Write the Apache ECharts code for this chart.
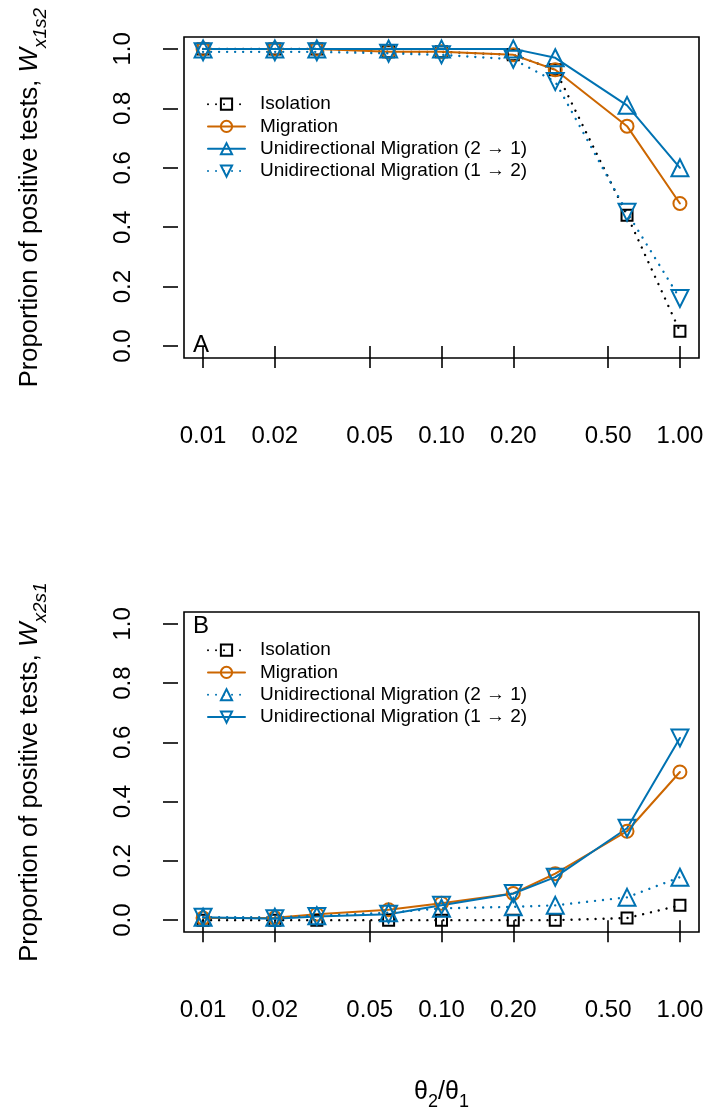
<!DOCTYPE html>
<html><head><meta charset="utf-8">
<script src="https://cdn.jsdelivr.net/npm/echarts@6/dist/echarts.min.js"></script>
<style>html,body{margin:0;padding:0;background:#fff}#c{width:708px;height:1111px}</style>
</head><body><div id="c"></div>
<script>
// ---- data ----
const theta = [0.01, 0.02, 0.03, 0.06, 0.1, 0.2, 0.3, 0.6, 1.0];
const xTicks = [0.01, 0.02, 0.05, 0.1, 0.2, 0.5, 1.0];
const yTicks = [0, 0.2, 0.4, 0.6, 0.8, 1.0];
const seriesNames = ['Isolation', 'Migration', 'Unidirectional Migration (2 \u2192 1)', 'Unidirectional Migration (1 \u2192 2)'];
// Panel A: W_x1s2
const A_isolation = [1.0, 1.0, 1.0, 0.99, 0.99, 0.98, 0.93, 0.44, 0.05];
const A_migration = [1.0, 1.0, 1.0, 0.99, 0.99, 0.98, 0.93, 0.74, 0.48];
const A_uni21     = [1.0, 1.0, 1.0, 1.0, 1.0, 1.0, 0.97, 0.81, 0.60];
const A_uni12     = [0.99, 0.99, 0.99, 0.985, 0.98, 0.965, 0.89, 0.45, 0.16];
// Panel B: W_x2s1
const B_isolation = [0.0, 0.0, 0.0, 0.0, 0.0, 0.0, 0.0, 0.007, 0.05];
const B_migration = [0.007, 0.008, 0.02, 0.035, 0.057, 0.09, 0.157, 0.30, 0.50];
const B_uni21     = [0.01, 0.01, 0.015, 0.025, 0.04, 0.045, 0.05, 0.077, 0.145];
const B_uni12     = [0.01, 0.005, 0.012, 0.02, 0.05, 0.09, 0.145, 0.31, 0.615];

const BLACK = '#000000', ORANGE = '#cc6600', BLUE = '#0072b2';
const FONT = 'Liberation Sans, Arial, Helvetica, sans-serif';
const DOT = [0.01, 8];

function pairs(ys) { return theta.map((t, i) => [t, ys[i]]); }

function mk(name, ys, idx, color, symbol, rotate, dotted, size) {
  return {
    type: 'line', name: name, xAxisIndex: idx, yAxisIndex: idx,
    data: pairs(ys), symbol: symbol, symbolSize: size, symbolRotate: rotate,
    showSymbol: true, animation: false,
    lineStyle: { color: color, width: dotted ? 2.4 : 2, type: dotted ? DOT : 'solid', cap: 'round' },
    itemStyle: { color: 'rgba(0,0,0,0)', borderColor: color, borderWidth: 2 },
    emphasis: { disabled: true }
  };
}

const sfx = ['', '\u200b'];
const series = [];
[[A_isolation, A_migration, A_uni21, A_uni12], [B_isolation, B_migration, B_uni21, B_uni12]].forEach((set, p) => {
  const uni21Dotted = p === 1, uni12Dotted = p === 0;
  series.push(mk(seriesNames[0] + sfx[p], set[0], p, BLACK, 'rect', 0, true, 11));
  series.push(mk(seriesNames[1] + sfx[p], set[1], p, ORANGE, 'circle', 0, false, 13));
  series.push(mk(seriesNames[2] + sfx[p], set[2], p, BLUE, 'triangle', 0, uni21Dotted, 17));
  series.push(mk(seriesNames[3] + sfx[p], set[3], p, BLUE, 'triangle', 180, uni12Dotted, 17));
});

const grids = [
  { left: 184, top: 37, width: 515, height: 321 },
  { left: 184, top: 612, width: 515, height: 320 }
].map(g => Object.assign(g, { show: true, borderColor: '#000', borderWidth: 1.6, backgroundColor: 'transparent',
  containLabel: false, outerBoundsMode: 'none' }));

function xAxis(i) {
  const ax = {
    type: 'log', logBase: 10, gridIndex: i, min: 0.0083176, max: 1.2023,
    offset: 2,
    axisLine: { show: false },
    axisTick: { show: true, length: 22, customValues: xTicks, lineStyle: { color: '#000', width: 1.6 } },
    axisLabel: { customValues: xTicks, margin: 64, fontSize: 24, fontFamily: FONT, color: '#000',
      formatter: v => Number(v).toFixed(2) },
    splitLine: { show: false }, minorTick: { show: false }
  };
  if (i === 1) {
    ax.name = '{t|\u03b8}{s|2}{t|/\u03b8}{s|1}';
    ax.nameLocation = 'middle';
    ax.nameGap = 141;
    ax.nameTextStyle = { rich: {
      t: { fontSize: 25, fontFamily: FONT, color: '#000', lineHeight: 30, verticalAlign: 'bottom' },
      s: { fontSize: 18, fontFamily: FONT, color: '#000', lineHeight: 30, verticalAlign: 'bottom', padding: [0, 0, -6, 0] }
    } };
  }
  return ax;
}

function yAxis(i, sub) {
  return {
    type: 'value', gridIndex: i, min: -0.04, max: 1.04, offset: 6,
    axisLine: { show: false },
    axisTick: { show: true, length: 15, customValues: yTicks, lineStyle: { color: '#000', width: 1.6 } },
    axisLabel: { customValues: yTicks, rotate: 90, margin: 43, fontSize: 24, fontFamily: FONT, color: '#000',
      formatter: v => Number(v).toFixed(1) },
    splitLine: { show: false },
    name: '{n|Proportion of positive tests, }{w|W}{s|' + sub + '}',
    nameLocation: 'middle', nameRotate: 90, nameGap: 135,
    nameTextStyle: { rich: {
      n: { fontSize: 25.5, fontFamily: FONT, color: '#000', lineHeight: 32, verticalAlign: 'bottom' },
      w: { fontSize: 26, fontFamily: FONT, fontStyle: 'italic', color: '#000', lineHeight: 32, verticalAlign: 'bottom' },
      s: { fontSize: 19, fontFamily: FONT, fontStyle: 'italic', color: '#000', lineHeight: 32, verticalAlign: 'bottom', padding: [0, 0, -7, 0] }
    } }
  };
}

function legend(p, top) {
  return {
    orient: 'vertical', left: 202, top: top, itemWidth: 37, itemHeight: 14, itemGap: 0,
    data: seriesNames.map(n => n + sfx[p]),
    formatter: n => n.replace('\u200b', ''),
    textStyle: { fontSize: 19, fontFamily: FONT, color: '#000', lineHeight: 22.3, padding: [0, 0, 0, 10] },
    selectedMode: false, inactiveColor: '#000'
  };
}

const chart = echarts.init(document.getElementById('c'), null, { renderer: 'canvas' });
chart.setOption({
  backgroundColor: '#fff',
  animation: false,
  grid: grids,
  xAxis: [xAxis(0), xAxis(1)],
  yAxis: [yAxis(0, 'x1s2'), yAxis(1, 'x2s1')],
  legend: [legend(0, 88), legend(1, 634)],
  title: [
    { text: 'A', left: 193, top: 333, textStyle: { fontSize: 24, fontWeight: 'normal', fontFamily: FONT, color: '#000' }, padding: 0 },
    { text: 'B', left: 193, top: 614, textStyle: { fontSize: 24, fontWeight: 'normal', fontFamily: FONT, color: '#000' }, padding: 0 }
  ],
  series: series
});
</script></body></html>
